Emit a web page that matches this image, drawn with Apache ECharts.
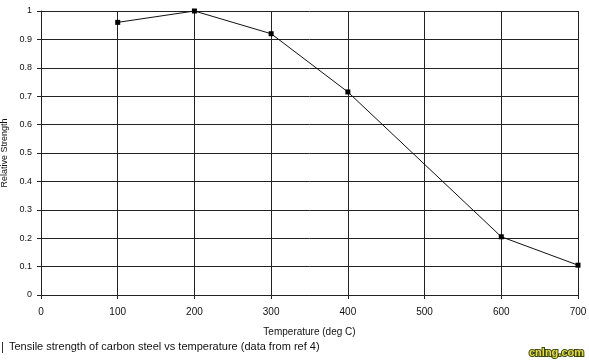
<!DOCTYPE html>
<html><head><meta charset="utf-8">
<script src="https://cdn.jsdelivr.net/npm/echarts@6/dist/echarts.min.js"></script>
<style>html,body{margin:0;padding:0;background:#fff}#c{width:589px;height:363px}</style>
</head><body><div id="c"></div>
<script>
var temperatures = [100, 200, 300, 400, 600, 700];
var strengths = [0.96, 1.0, 0.92, 0.715, 0.205, 0.105];
var xTitle = 'Temperature (deg C)';
var yTitle = 'Relative Strength';
var caption = 'Tensile strength of carbon steel vs temperature (data from ref 4)';

var chart = echarts.init(document.getElementById('c'));
var pts = temperatures.map(function(t, i){ return [t, strengths[i]]; });
chart.setOption({
  animation: false,
  backgroundColor: '#fff',
  grid: {left: 41, right: 11, top: 11, bottom: 68, containLabel: false, outerBoundsMode: 'none'},
  xAxis: {
    type: 'value', min: 0, max: 700, interval: 100,
    name: xTitle, nameLocation: 'middle', nameGap: 32,
    nameTextStyle: {fontFamily: 'Arial, Liberation Sans', fontSize: 10, color: '#111'},
    axisLine: {show: true, lineStyle: {color: '#222', width: 1}},
    axisTick: {show: true, length: 4, lineStyle: {color: '#222'}},
    axisLabel: {fontFamily: 'Arial, Liberation Sans', fontSize: 10, color: '#111', margin: 12},
    splitLine: {show: true, lineStyle: {color: '#222', width: 1}}
  },
  yAxis: {
    type: 'value', min: 0, max: 1, interval: 0.1,
    name: yTitle, nameLocation: 'middle', nameGap: 27,
    nameTextStyle: {fontFamily: 'Arial, Liberation Sans', fontSize: 9, color: '#111'},
    axisLine: {show: true, lineStyle: {color: '#222', width: 1}},
    axisTick: {show: true, length: 4, lineStyle: {color: '#222'}},
    axisLabel: {fontFamily: 'Arial, Liberation Sans', fontSize: 9, color: '#111', margin: 9,
      formatter: function(v){ return String(Math.round(v*10)/10); }},
    splitLine: {show: true, lineStyle: {color: '#222', width: 1}}
  },
  series: [{
    type: 'line', data: pts,
    symbol: 'rect', symbolSize: 5,
    itemStyle: {color: '#000'},
    lineStyle: {color: '#111', width: 1}
  }],
  graphic: [
    {type: 'text', left: 9, top: 341, style: {text: caption, font: '11px Arial, "Liberation Sans"', fill: '#111'}},
    {type: 'rect', left: 2, top: 342, shape: {width: 1, height: 11}, style: {fill: '#333'}},
    {type: 'text', right: 4, top: 346, style: {text: 'cnlng.com', font: 'bold 11px Arial, "Liberation Sans"', fill: '#e8d84a', stroke: '#3a4a10', lineWidth: 2}}
  ]
});
</script></body></html>
